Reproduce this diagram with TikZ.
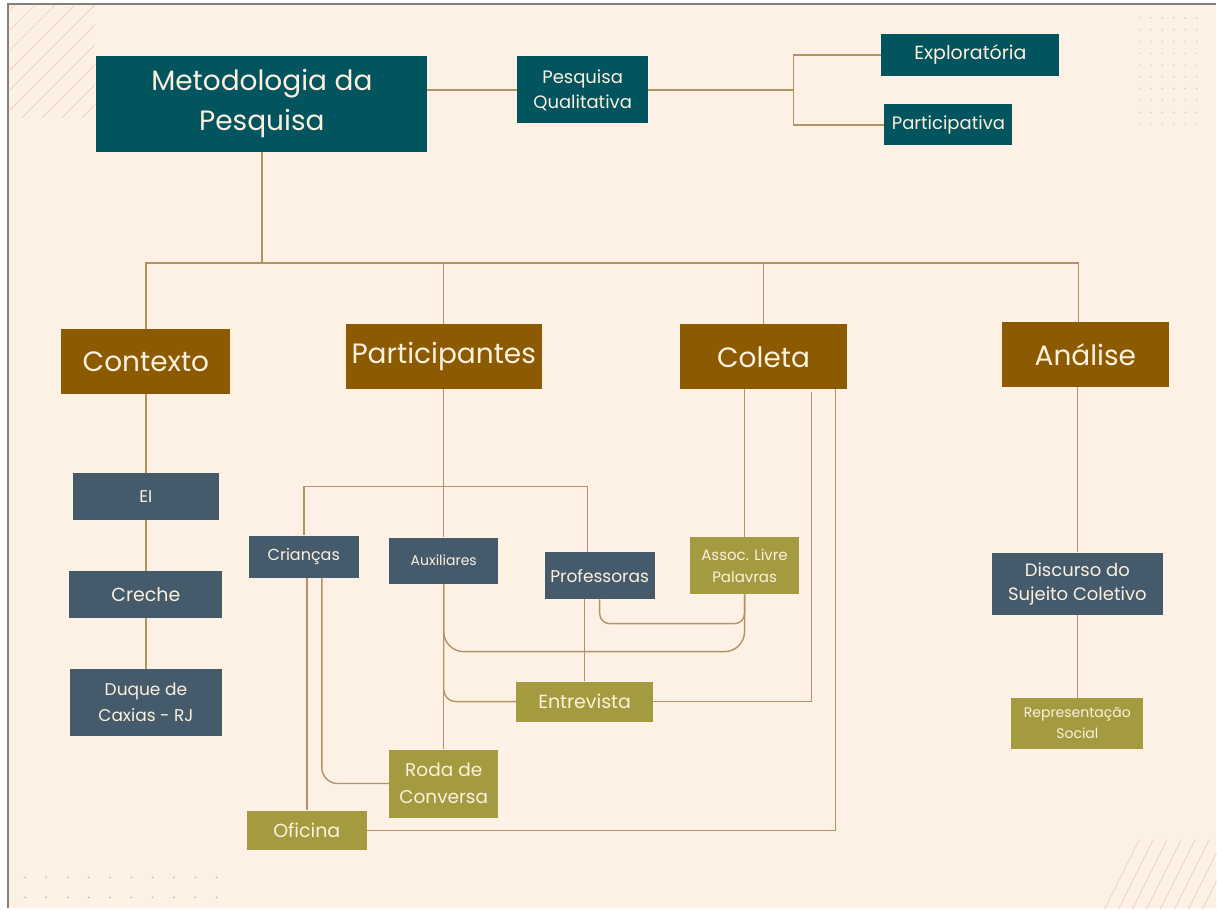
\documentclass[tikz,border=0pt]{standalone}
\usepackage{fontspec}
\setmainfont{Poppins}
\definecolor{fundo}{RGB}{253,241,230}
\definecolor{petroleo}{RGB}{2,85,94}
\definecolor{caramelo}{RGB}{140,90,0}
\definecolor{ardosia}{RGB}{69,91,108}
\definecolor{oliva}{RGB}{164,155,64}
\definecolor{fio}{RGB}{178,148,100}
\definecolor{letra}{RGB}{253,240,222}
\definecolor{enfeite}{RGB}{236,216,195}
\newcommand\fsz[2]{\fontsize{#1}{#2}\selectfont}
\begin{document}
\begin{tikzpicture}[x=1pt,y=-1pt,
    caixa/.style={inner sep=0pt,align=center,text=letra},
    nivelA/.style={caixa,fill=petroleo},
    nivelB/.style={caixa,fill=caramelo,font=\fsz{28}{32}},
    nivelC/.style={caixa,fill=ardosia},
    nivelD/.style={caixa,fill=oliva},
    liga/.style={draw=fio,line width=1.4pt}]
% ------ fundo e enfeites ----------------
\fill[white] (0,0) rectangle (1217,909);
\fill[fundo] (8,4) rectangle (1217,909);
\draw[gray,line width=1.5pt] (8,909) -- (8,4) -- (1217,4);
\begin{scope}
  \clip (10,6) rectangle (95,118);
  \foreach \c in {20,40,...,200} \draw[enfeite,line width=1pt] (0,\c) -- (\c,0);
\end{scope}
\begin{scope}
  \clip (1100,840) rectangle (1217,909);
  \foreach \c in {0,14,...,200} \draw[enfeite,line width=1pt] (1080+\c,960) -- (1140+\c,840);
\end{scope}
\foreach \i in {0,...,5} \foreach \j in {0,...,9}
  \fill[enfeite!80!gray] (1140+11.5*\i,18+11.8*\j) circle (0.8);
\foreach \i in {0,...,9} \foreach \j in {0,1}
  \fill[enfeite!70!gray] (25+21.3*\i,878+20*\j) circle (1);
% ------ topo ----------------
\node[nivelA,minimum width=331,minimum height=96,font=\fsz{28}{40}] (meto) at (262,104) {Metodologia da\\Pesquisa};
\node[nivelA,minimum width=131,minimum height=67,font=\fsz{18}{25}] (pq) at (583,90) {Pesquisa\\Qualitativa};
\node[nivelA,minimum width=178,minimum height=42,font=\fsz{19}{20}] (exp) at (971,55) {Exploratória};
\node[nivelA,minimum width=128,minimum height=41,font=\fsz{18}{20}] (parti) at (949,125) {Participativa};
\coordinate (fork) at (794,90);
\coordinate (bus) at (0,263);
\draw[liga] (meto.east |- pq) -- (pq.west);
\draw[liga] (pq.east) -- (fork);
\draw[liga] (exp.west) -| (fork) |- (parti.west);
% ------ eixos ----------------
\node[nivelB,minimum width=169,minimum height=65] (ctx) at (146,362) {Contexto};
\node[nivelB,minimum width=196,minimum height=65] (part) at (444,357) {Participantes};
\node[nivelB,minimum width=168,minimum height=65] (col) at (764,357) {Coleta};
\node[nivelB,minimum width=167,minimum height=65] (ana) at (1086,355) {Análise};
\draw[liga] (meto.south) -- (meto.south |- bus);
\draw[liga] (ctx.north) |- ([xshift=-7pt]ana.north |- bus) -- ([xshift=-7pt]ana.north);
\draw[liga] (part.north) -- (part.north |- bus);
\draw[liga] (col.north) -- (col.north |- bus);
% ------ contexto ----------------
\node[nivelC,minimum width=146,minimum height=47,font=\fsz{17}{20}] (ei) at (146,497) {EI};
\node[nivelC,minimum width=153,minimum height=47,font=\fsz{19}{20}] (cre) at (146,595) {Creche};
\node[nivelC,minimum width=152,minimum height=67,font=\fsz{17}{26}] (dqc) at (146,703) {Duque de\\Caxias - RJ};
\draw[liga] (ctx.south) -- (ei.north);
\draw[liga] (ei.south) -- (cre.north);
\draw[liga] (cre.south) -- (dqc.north);
% ------ participantes e coleta ----------------
\node[nivelC,minimum width=110,minimum height=42,font=\fsz{16}{20}] (cri) at (304,557) {Crianças};
\node[nivelC,minimum width=109,minimum height=46,font=\fsz{14}{16}] (aux) at (444,561) {Auxiliares};
\node[nivelC,minimum width=110,minimum height=47,font=\fsz{17}{18}] (prof) at (600,576) {Professoras};
\node[nivelD,minimum width=109,minimum height=57,font=\fsz{15}{22}] (assoc) at (745,566) {Assoc. Livre\\Palavras};
\node[nivelD,minimum width=137,minimum height=40,font=\fsz{19}{20}] (ent) at (585,702) {Entrevista};
\node[nivelD,minimum width=109,minimum height=68,font=\fsz{18.5}{27}] (roda) at (444,784) {Roda de\\Conversa};
\node[nivelD,minimum width=120,minimum height=40,font=\fsz{19}{20}] (ofi) at (307,831) {Oficina};
\coordinate (chave) at (0,487);
\coordinate (laco1) at (0,624);
\coordinate (laco2) at (0,652);
\draw[liga] (part.south) -- (aux.north);
\draw[liga] (cri.north) |- ([xshift=-12pt]prof.north |- chave) -- ([xshift=-12pt]prof.north);
\draw[liga] (assoc.north) -- (assoc.north |- col.south);
\draw[liga] (ent.east) -| ([xshift=48pt,yshift=-3pt]col.south);
\draw[liga] (ofi.east) -| ([xshift=72pt]col.south);
\draw[liga,rounded corners=10pt] (prof.south) |- (laco1 -| assoc.south) -- (assoc.south);
\draw[liga,rounded corners=20pt] (aux.south) |- (laco2 -| assoc.south) -- (assoc.south);
\draw[liga,rounded corners=12pt] (aux.south) |- (ent.west);
\draw[liga] (aux.south) -- (roda.north);
\draw[liga] (ent.north) -- (ent.north |- prof.south);
\draw[liga,rounded corners=16pt] ([xshift=18pt]cri.south) |- (roda.west);
\draw[liga] (ofi.north |- cri.south) -- (ofi.north);
% ------ analise ----------------
\node[nivelC,minimum width=171,minimum height=62,font=\fsz{18}{24}] (dsc) at (1078,584) {Discurso do\\Sujeito Coletivo};
\node[nivelD,minimum width=132,minimum height=51,font=\fsz{14}{21}] (rep) at (1078,724) {Representação\\Social};
\draw[liga] (dsc.north) -- (dsc.north |- ana.south);
\draw[liga] (dsc.south) -- (rep.north);
\end{tikzpicture}
\end{document}
